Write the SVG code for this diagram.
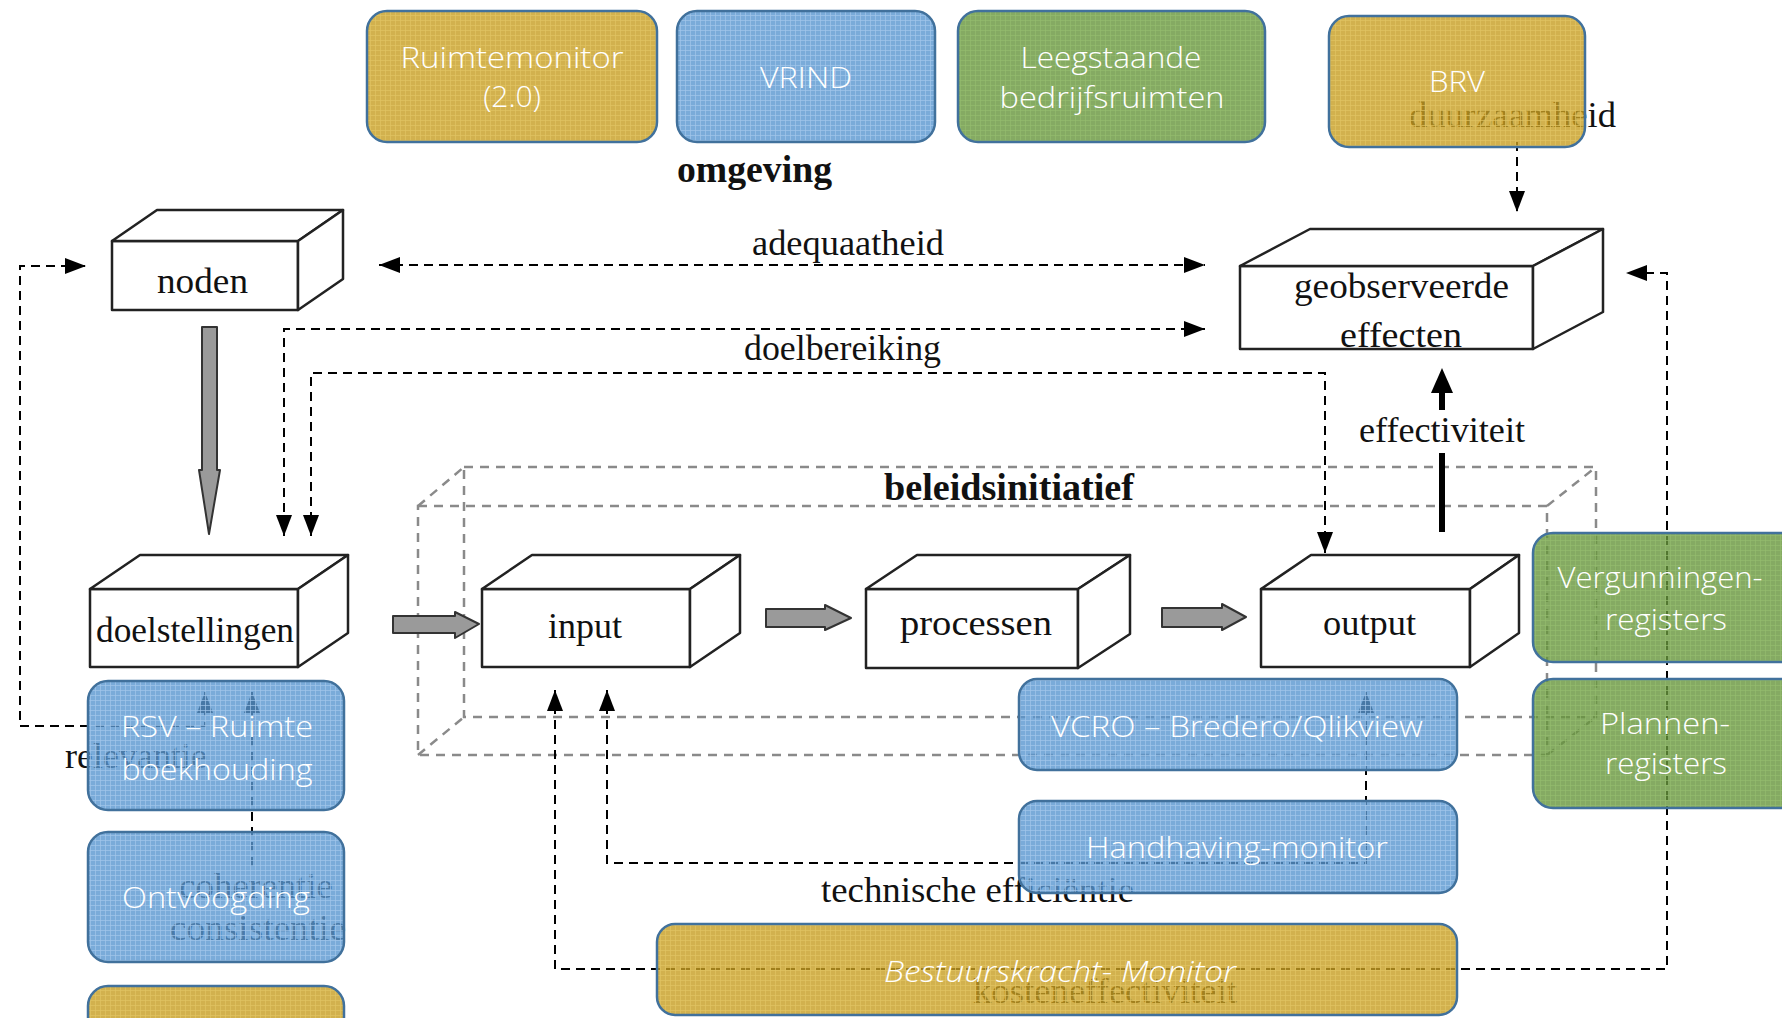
<svg xmlns="http://www.w3.org/2000/svg" width="1782" height="1018" viewBox="0 0 1782 1018">
<defs>
<style>
.box3d{fill:#fff;stroke:#222;stroke-width:2.5;stroke-linejoin:round}
.dash{fill:none;stroke:#000;stroke-width:2;stroke-dasharray:9 6}
.frame{fill:none;stroke:#8a8a8a;stroke-width:2.5;stroke-dasharray:9 7}
.blk{fill:#9a9a9a;stroke:#333;stroke-width:2;stroke-linejoin:round}
.ser{font-family:"Liberation Serif","Times New Roman",serif;font-size:36px;fill:#111}
.serb{font-family:"Liberation Serif","Times New Roman",serif;font-size:38px;font-weight:bold;fill:#111}
.lab{font-family:"Open Sans","Liberation Sans",sans-serif;font-size:30px;font-weight:300;fill:#fff;text-anchor:middle}
.cb{stroke:#41719C;stroke-width:2.5}
</style>
<pattern id="pGold" width="5" height="5" patternUnits="userSpaceOnUse">
<rect width="5" height="5" fill="#C79D22" fill-opacity="0.8"/>
<path d="M0,0.5H5M0.5,0V5" stroke="#E2C463" stroke-width="1" stroke-opacity="0.7"/>
</pattern>
<pattern id="pBlue" width="5" height="5" patternUnits="userSpaceOnUse">
<rect width="5" height="5" fill="#5996D0" fill-opacity="0.8"/>
<path d="M0,0.5H5M0.5,0V5" stroke="#A3C7EC" stroke-width="1" stroke-opacity="0.7"/>
</pattern>
<pattern id="pGreen" width="5" height="5" patternUnits="userSpaceOnUse">
<rect width="5" height="5" fill="#66953C" fill-opacity="0.8"/>
<path d="M0,0.5H5M0.5,0V5" stroke="#94BC6E" stroke-width="1" stroke-opacity="0.7"/>
</pattern>
<marker id="ah" markerUnits="userSpaceOnUse" markerWidth="22" markerHeight="18" viewBox="0 0 22 18" refX="21" refY="9" orient="auto-start-reverse">
<path d="M0,1 L21,9 L0,17 z" fill="#000"/>
</marker>
</defs>
<rect width="1782" height="1018" fill="#fff"/>

<g id="beleidsinitiatief-frame">
<path class="frame" d="M464,467 H1596 V717 H464 Z"/>
<path class="frame" d="M418,506 H1547 V755 H418 Z"/>
<path class="frame" d="M418,506 L464,467 M418,755 L464,717 M1547,506 L1596,467 M1547,755 L1596,717"/>
<text class="serb" x="884" y="500" textLength="250" lengthAdjust="spacingAndGlyphs">beleidsinitiatief</text>
</g>

<g id="connectors">
<path class="dash" d="M379,265 H1205" marker-start="url(#ah)" marker-end="url(#ah)"/>
<path class="dash" d="M1205,329 H284 V536" marker-start="url(#ah)" marker-end="url(#ah)"/>
<path class="dash" d="M311,536 V373 H1325 V553" marker-start="url(#ah)" marker-end="url(#ah)"/>
<path class="dash" d="M205,692 V726 H20 V266 H86" marker-start="url(#ah)" marker-end="url(#ah)"/>
<path class="dash" d="M252,692 V868" marker-start="url(#ah)"/>
<path class="dash" d="M607,690 V863 H1366 V692" marker-start="url(#ah)" marker-end="url(#ah)"/>
<path class="dash" d="M555,690 V969 H1667 V273 H1626" marker-start="url(#ah)" marker-end="url(#ah)"/>
<path class="dash" d="M1517,142 V212" marker-end="url(#ah)"/>
<path d="M1442,532 V453 M1442,410 V390" stroke="#000" stroke-width="6" fill="none"/>
<path d="M1431,393 L1442,368 L1453,393 Z" fill="#000"/>
<path class="blk" d="M202,327 H217 V470 H220 L209,534 L199,470 H202 Z"/>
<path class="blk" d="M393,616 H455 V612 L479,624 L455,638 V633 H393 Z"/>
<path class="blk" d="M766,609 H825 V605 L851,618 L825,630 V627 H766 Z"/>
<path class="blk" d="M1162,608 H1222 V604 L1246,617 L1222,630 V627 H1162 Z"/>
</g>

<g id="labels">
<text class="serb" x="677" y="182" textLength="155" lengthAdjust="spacingAndGlyphs">omgeving</text>
<text class="ser" x="752" y="255" textLength="192" lengthAdjust="spacingAndGlyphs">adequaatheid</text>
<text class="ser" x="744" y="360" textLength="197" lengthAdjust="spacingAndGlyphs">doelbereiking</text>
<text class="ser" x="1359" y="442" textLength="166" lengthAdjust="spacingAndGlyphs">effectiviteit</text>
<text class="ser" x="65" y="768" textLength="142" lengthAdjust="spacingAndGlyphs">relevantie</text>
<text class="ser" x="179" y="898" textLength="154" lengthAdjust="spacingAndGlyphs">coherentie</text>
<text class="ser" x="170" y="940" textLength="176" lengthAdjust="spacingAndGlyphs">consistentie</text>
<text class="ser" x="821" y="902" textLength="313" lengthAdjust="spacingAndGlyphs">technische efficiëntie</text>
<text class="ser" x="973" y="1003" textLength="264" lengthAdjust="spacingAndGlyphs">kosteneffectiviteit</text>
<text class="ser" x="1409" y="127" textLength="207" lengthAdjust="spacingAndGlyphs">duurzaamheid</text>
</g>

<g id="noden">
<path class="box3d" d="M112,241 H298 V310 H112 Z"/>
<path class="box3d" d="M112,241 L157,210 H343 L298,241 Z"/>
<path class="box3d" d="M298,241 L343,210 V279 L298,310 Z"/>
<text class="ser" x="157" y="293" textLength="91" lengthAdjust="spacingAndGlyphs">noden</text>
</g>

<g id="geobserveerde-effecten">
<path class="box3d" d="M1240,266 H1533 V349 H1240 Z"/>
<path class="box3d" d="M1240,266 L1310,229 H1603 L1533,266 Z"/>
<path class="box3d" d="M1533,266 L1603,229 V312 L1533,349 Z"/>
<text class="ser" x="1294" y="298" textLength="215" lengthAdjust="spacingAndGlyphs">geobserveerde</text>
<text class="ser" x="1340" y="347" textLength="122" lengthAdjust="spacingAndGlyphs">effecten</text>
</g>

<g id="doelstellingen">
<path class="box3d" d="M90,589 H298 V667 H90 Z"/>
<path class="box3d" d="M90,589 L140,555 H348 L298,589 Z"/>
<path class="box3d" d="M298,589 L348,555 V633 L298,667 Z"/>
<text class="ser" x="96" y="642" textLength="198" lengthAdjust="spacingAndGlyphs">doelstellingen</text>
</g>

<g id="input">
<path class="box3d" d="M482,589 H690 V667 H482 Z"/>
<path class="box3d" d="M482,589 L532,555 H740 L690,589 Z"/>
<path class="box3d" d="M690,589 L740,555 V633 L690,667 Z"/>
<text class="ser" x="548" y="638" textLength="74" lengthAdjust="spacingAndGlyphs">input</text>
</g>

<g id="processen">
<path class="box3d" d="M866,589 H1078 V668 H866 Z"/>
<path class="box3d" d="M866,589 L917,555 H1130 L1078,589 Z"/>
<path class="box3d" d="M1078,589 L1130,555 V634 L1078,668 Z"/>
<text class="ser" x="900" y="635" textLength="152" lengthAdjust="spacingAndGlyphs">processen</text>
</g>

<g id="output">
<path class="box3d" d="M1261,589 H1470 V667 H1261 Z"/>
<path class="box3d" d="M1261,589 L1311,555 H1519 L1470,589 Z"/>
<path class="box3d" d="M1470,589 L1519,555 V633 L1470,667 Z"/>
<text class="ser" x="1323" y="635" textLength="93" lengthAdjust="spacingAndGlyphs">output</text>
</g>

<g id="ruimtemonitor">
<rect class="cb" x="367" y="11" width="290" height="131" rx="20" fill="url(#pGold)"/>
<text class="lab" x="512" y="68" textLength="223" lengthAdjust="spacingAndGlyphs">Ruimtemonitor</text>
<text class="lab" x="512" y="107">(2.0)</text>
</g>
<g id="vrind">
<rect class="cb" x="677" y="11" width="258" height="131" rx="20" fill="url(#pBlue)"/>
<text class="lab" x="806" y="88" textLength="92" lengthAdjust="spacingAndGlyphs">VRIND</text>
</g>
<g id="leegstaande">
<rect class="cb" x="958" y="11" width="307" height="131" rx="20" fill="url(#pGreen)"/>
<text class="lab" x="1111" y="68" textLength="181" lengthAdjust="spacingAndGlyphs">Leegstaande</text>
<text class="lab" x="1112" y="108" textLength="225" lengthAdjust="spacingAndGlyphs">bedrijfsruimten</text>
</g>
<g id="brv">
<rect class="cb" x="1329" y="16" width="256" height="131" rx="20" fill="url(#pGold)"/>
<text class="lab" x="1457" y="92" textLength="56" lengthAdjust="spacingAndGlyphs">BRV</text>
</g>
<g id="rsv">
<rect class="cb" x="88" y="681" width="256" height="129" rx="20" fill="url(#pBlue)"/>
<text class="lab" x="217" y="737" textLength="192" lengthAdjust="spacingAndGlyphs">RSV – Ruimte</text>
<text class="lab" x="217" y="780" textLength="191" lengthAdjust="spacingAndGlyphs">boekhouding</text>
</g>
<g id="ontvoogding">
<rect class="cb" x="88" y="832" width="256" height="130" rx="20" fill="url(#pBlue)"/>
<text class="lab" x="216" y="908" textLength="188" lengthAdjust="spacingAndGlyphs">Ontvoogding</text>
</g>
<g id="gold-bottom-left">
<rect class="cb" x="88" y="986" width="256" height="80" rx="20" fill="url(#pGold)"/>
</g>
<g id="vcro">
<rect class="cb" x="1019" y="679" width="438" height="91" rx="18" fill="url(#pBlue)"/>
<text class="lab" x="1237" y="737" textLength="372" lengthAdjust="spacingAndGlyphs">VCRO – Bredero/Qlikview</text>
</g>
<g id="handhaving">
<rect class="cb" x="1019" y="801" width="438" height="92" rx="18" fill="url(#pBlue)"/>
<text class="lab" x="1237" y="858" textLength="302" lengthAdjust="spacingAndGlyphs">Handhaving-monitor</text>
</g>
<g id="bestuurskracht">
<rect class="cb" x="657" y="924" width="800" height="91" rx="18" fill="url(#pGold)"/>
<text class="lab" x="1060" y="982" font-style="italic" textLength="352" lengthAdjust="spacingAndGlyphs">Bestuurskracht- Monitor</text>
</g>
<g id="vergunningen">
<rect class="cb" x="1533" y="533" width="270" height="129" rx="20" fill="url(#pGreen)"/>
<text class="lab" x="1660" y="588" textLength="205" lengthAdjust="spacingAndGlyphs">Vergunningen-</text>
<text class="lab" x="1666" y="630" textLength="122" lengthAdjust="spacingAndGlyphs">registers</text>
</g>
<g id="plannen">
<rect class="cb" x="1533" y="679" width="270" height="129" rx="20" fill="url(#pGreen)"/>
<text class="lab" x="1665" y="734" textLength="130" lengthAdjust="spacingAndGlyphs">Plannen-</text>
<text class="lab" x="1666" y="774" textLength="122" lengthAdjust="spacingAndGlyphs">registers</text>
</g>
</svg>
